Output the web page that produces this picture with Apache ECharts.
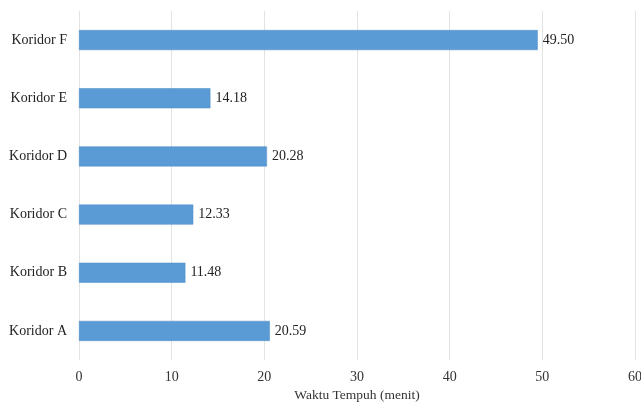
<!DOCTYPE html>
<html><head><meta charset="utf-8">
<script src="https://cdn.jsdelivr.net/npm/echarts@6/dist/echarts.min.js"></script>
<style>html,body{margin:0;padding:0;background:#fff}#c{width:641px;height:403px}</style>
</head><body><div id="c"></div>
<script>
const categories = ['Koridor A','Koridor B','Koridor C','Koridor D','Koridor E','Koridor F'];
const values = [20.59, 11.48, 12.33, 20.28, 14.18, 49.50];
const xTicks = [0,10,20,30,40,50,60];
const axisName = 'Waktu Tempuh (menit)';
const font = '"Liberation Serif", "Times New Roman", serif';
const chart = echarts.init(document.getElementById('c'));
chart.setOption({
  animation: false,
  grid: {left: 79, right: 6, top: 11, bottom: 43, containLabel: false, outerBoundsMode: 'none'},
  xAxis: {
    type: 'value', min: xTicks[0], max: xTicks[xTicks.length-1], interval: 10,
    axisLine: {show: false}, axisTick: {show: false},
    splitLine: {show: true, lineStyle: {color: '#e3e3e3', width: 1}},
    axisLabel: {color: '#333', fontFamily: font, fontSize: 14, margin: 10},
    name: axisName, nameLocation: 'middle', nameGap: 28,
    nameTextStyle: {color: '#333', fontFamily: font, fontSize: 13.5}
  },
  yAxis: {
    type: 'category', data: categories,
    axisLine: {show: false}, axisTick: {show: false},
    axisLabel: {color: '#222', fontFamily: font, fontSize: 14, margin: 12}
  },
  series: [{
    type: 'bar', data: values, barWidth: 20,
    itemStyle: {color: '#5b9bd5', borderColor: '#4a8ac6', borderWidth: 0.5},
    label: {show: true, position: 'right', distance: 5, color: '#222', fontFamily: font, fontSize: 14,
      formatter: p => p.value.toFixed(2)}
  }]
});
</script></body></html>
